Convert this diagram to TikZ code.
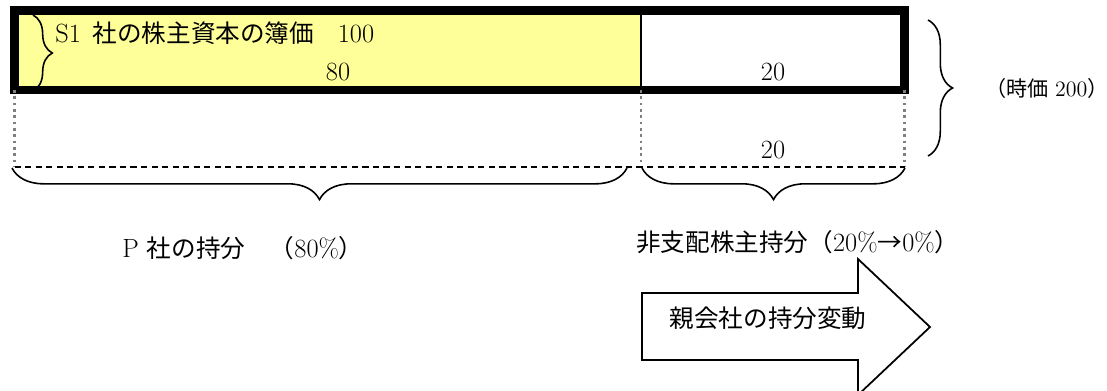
\documentclass[tikz,border=0pt]{standalone}
\usepackage{fontspec}
\newfontfamily\jp{Noto Sans CJK JP}
\usetikzlibrary{decorations.pathreplacing,positioning}
\definecolor{boxyellow}{HTML}{FFFF99}
\newcommand\jt[1]{{\jp\fontsize{14}{17}\selectfont #1}}
\newcommand\js[1]{{\jp\fontsize{12}{15}\selectfont #1}}
\tikzset{
  lbl/.style={font=\fontsize{15}{17}\selectfont, inner sep=0pt},
  small lbl/.style={font=\fontsize{12.5}{15}\selectfont, inner sep=0pt},
  guide/.style={gray, dotted, line width=1.6pt},
  curly/.style={decorate, decoration={brace, amplitude=#1}, line width=0.9pt},
}
\begin{document}
\begin{tikzpicture}[x=0.02cm, y=-0.02cm]
    \useasboundingbox (0,0) rectangle (1107,391);

    % Corners of the bar
    \coordinate (tl) at (14.5,10.5);
    \coordinate (tm) at (641,10.5);
    \coordinate (tr) at (904.5,10.5);
    \coordinate (bl) at (14.5,90);
    \coordinate (bm) at (641,90);
    \coordinate (br) at (904.5,90);
    \coordinate (gl) at (14.5,167);
    \coordinate (gm) at (641,167);
    \coordinate (gr) at (904.5,167);

    % Book value part
    \fill[boxyellow] (tl) rectangle (bm);
    \draw[curly=11pt] (33,15) -- (33,91);
    \draw[line width=0.9pt] (tm) -- (bm);
    \draw[line width=5.1pt] (tl) rectangle (br);

    % Labels inside the bar
    \node[lbl, anchor=west] (book) at (55,33)
        {S1\hspace{0.45em}\jt{社の株主資本の簿価}\hspace{0.9em}100};
    \node[lbl] (p80) at (338,72) {80};
    \node[lbl] (nci20) at (773,72) {20};

    % Market value part
    \draw[guide] (bl) -- (gl);
    \draw[guide] (bm) -- (gm);
    \draw[guide] (br) -- (gr);
    \draw[dashed, dash pattern=on 3.5pt off 2.5pt, line width=0.6pt] (gl) -- (gr);
    \node[lbl] (gain20) at (773,150) {20};

    % Braces
    \draw[curly=14pt] (928,20) -- (928,156);
    \node[small lbl, anchor=west] (jika) at (985,88)
        {\js{（時価}\hspace{0.3em}200\js{）}};
    \draw[curly=18pt] (627,168) -- (12,168);
    \draw[curly=18pt] (905,168) -- (642,168);

    % Shares
    \node[lbl] (pshare) at (243,248) {P\hspace{0.3em}\jt{社の持分　（}80\%\jt{）}};
    \node[lbl, anchor=west] (ncishare) at (636,242)
        {\jt{非支配株主持分（}20\%\jt{→}0\%\jt{）}};

    % Block arrow
    \draw[line width=1pt, fill=white] (642,293) -- (858,293) -- (858,259)
        -- (930,327) -- (858,395) -- (858,360) -- (642,360) -- cycle;
    \node[lbl] (change) at (768,318) {\jt{親会社の持分変動}};

\end{tikzpicture}
\end{document}
